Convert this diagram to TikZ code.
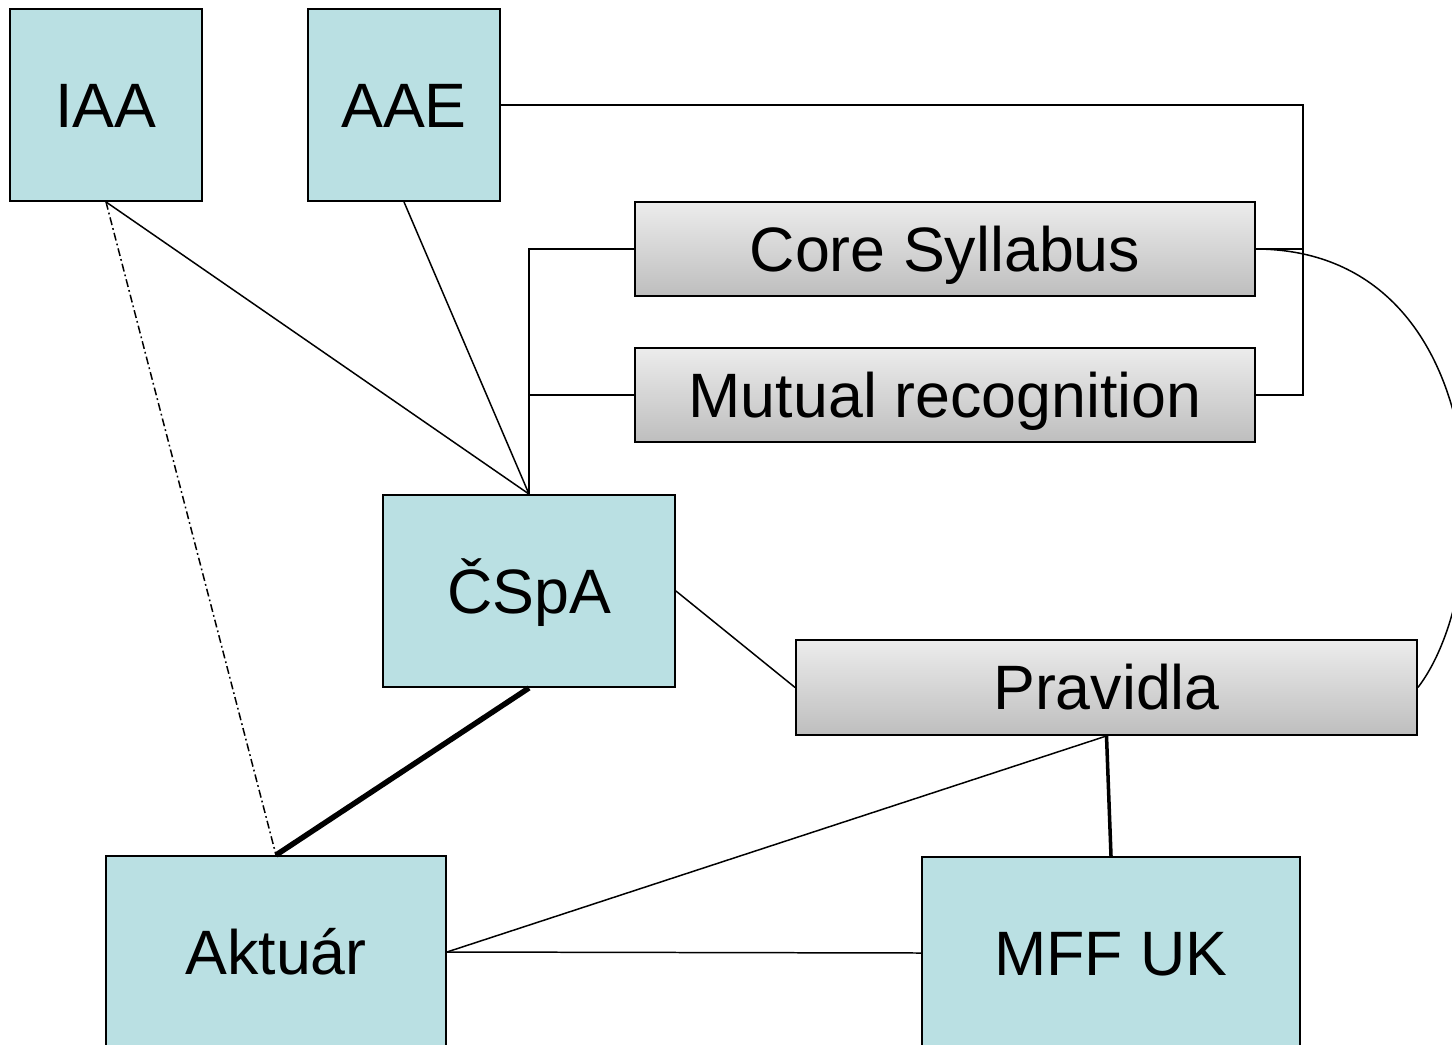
\documentclass[tikz,border=0pt]{standalone}
\usepackage{fontspec}
\setmainfont{Liberation Sans}
\usetikzlibrary{calc}
\definecolor{boxblue}{RGB}{186,224,227}
\definecolor{gtop}{RGB}{236,236,236}
\definecolor{gbot}{RGB}{190,190,190}
\begin{document}
\begin{tikzpicture}[x=0.02cm,y=-0.02cm,
  bluebox/.style={draw=black,line width=1.1pt,fill=boxblue,inner sep=0pt,
    text height=25.6pt,text depth=0pt,
    font=\fontsize{35.7}{40}\selectfont},
  greybox/.style={draw=black,line width=1.1pt,top color=gtop,bottom color=gbot,
    inner sep=0pt,minimum width=12.4cm,minimum height=1.88cm,
    text height=25.6pt,text depth=0pt,
    font=\fontsize{35.7}{40}\selectfont},
  thin/.style={line width=0.85pt},
  heavy/.style={line width=3.1pt},
  medium/.style={line width=2pt}]
\useasboundingbox (0,0) rectangle (1452,1044);
\node[bluebox,minimum width=3.84cm,minimum height=3.84cm] (iaa) at (106,105) {IAA};
\node[bluebox,minimum width=3.84cm,minimum height=3.84cm] (aae) at (404,105) {AAE};
\node[greybox] (core) at (945,249) {Core Syllabus};
\node[greybox] (mutual) at (945,395) {Mutual recognition};
\node[bluebox,minimum width=5.84cm,minimum height=3.84cm] (cspa) at (529,591) {ČSpA};
\node[greybox,minimum width=12.42cm,minimum height=1.9cm] (pravidla) at (1106.5,687.5) {Pravidla};
\node[bluebox,minimum width=6.8cm,minimum height=3.84cm] (aktuar) at (276,952) {Aktuár};
\node[bluebox,minimum width=7.56cm,minimum height=3.84cm] (mff) at (1111,953) {MFF UK};
\coordinate (rc) at (1303,395);
% connectors
\draw[thin] (iaa.south) -- (cspa.north);
\draw[thin] (aae.south) -- (cspa.north);
\draw[thin,dash pattern=on 4.5pt off 1.8pt on 1pt off 1.8pt] (iaa.south) -- (aktuar.north);
\draw[heavy] (cspa.south) -- (aktuar.north);
\draw[thin] (cspa.north) |- (core.west);
\draw[thin] (cspa.north |- mutual.west) -- (mutual.west);
\draw[thin] (aae.east) -| (rc) -- (mutual.east);
\draw[thin] (core.east) -- (core.east -| rc);
\draw[thin] (core.east) .. controls (1495,250) and (1500,580) .. (pravidla.east);
\draw[thin] (cspa.east) -- (pravidla.west);
\draw[medium] (pravidla.south) -- (mff.north);
\draw[thin] (pravidla.south) -- (aktuar.east);
\draw[thin] (aktuar.east) -- (mff.west);
\end{tikzpicture}
\end{document}
